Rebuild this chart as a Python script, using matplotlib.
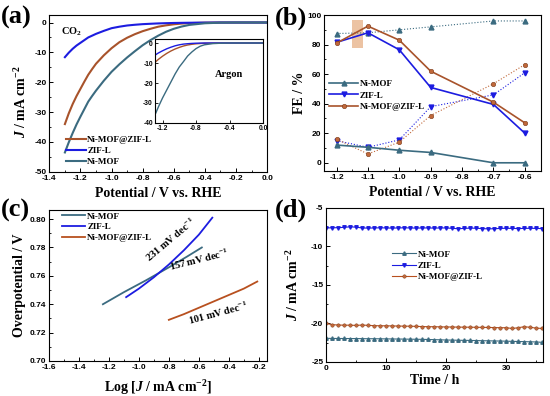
import matplotlib
matplotlib.use("Agg")
import matplotlib.pyplot as plt
from matplotlib.patches import Rectangle
from matplotlib.ticker import MultipleLocator

plt.rcParams["font.family"] = ["Liberation Sans", "DejaVu Sans"]
plt.rcParams["font.weight"] = "bold"
plt.rcParams["mathtext.fontset"] = "custom"
plt.rcParams["mathtext.rm"] = "Liberation Serif:bold"
plt.rcParams["mathtext.bf"] = "Liberation Serif:bold"
plt.rcParams["mathtext.it"] = "Liberation Serif:italic:bold"
plt.rcParams["axes.linewidth"] = 0.8
plt.rcParams["axes.unicode_minus"] = False

SERIF = "Liberation Serif"
C_MOF = "#3b6b80"
C_ZIF = "#1c1ce0"
C_MIX = "#a8532b"
names = ["Ni-MOF", "ZIF-L", "Ni-MOF@ZIF-L"]

# (a) LSV in CO2
v_main = [-1.30, -1.275, -1.25, -1.225, -1.20, -1.175, -1.15, -1.125, -1.10, -1.05,
          -1.00, -0.95, -0.90, -0.85, -0.80, -0.75, -0.70, -0.65, -0.60, -0.55,
          -0.50, -0.40, -0.30, -0.20, -0.10, 0.00]
j_mof = [-43.5, -40.1, -37.0, -34.1, -31.5, -29.0, -26.5, -24.6, -22.8, -19.5,
         -16.5, -14.0, -11.7, -9.6, -7.6, -5.9, -4.4, -3.1, -2.1, -1.35,
         -0.8, -0.25, -0.05, 0.0, 0.0, 0.0]
j_zif = [-11.6, -10.1, -8.8, -7.7, -6.8, -5.9, -5.0, -4.4, -3.8, -2.8,
         -1.9, -1.4, -1.0, -0.75, -0.55, -0.42, -0.3, -0.22, -0.15, -0.11,
         -0.08, -0.03, 0.0, 0.0, 0.0, 0.0]
j_mix = [-34.0, -30.4, -27.3, -24.6, -22.2, -19.8, -17.5, -15.6, -13.8, -11.0,
         -8.6, -6.6, -5.1, -3.9, -2.9, -2.1, -1.4, -0.95, -0.6, -0.35,
         -0.2, -0.05, 0.0, 0.0, 0.0, 0.0]

# (a) inset, argon
v_ar = [-1.28, -1.25, -1.20, -1.15, -1.10, -1.05, -1.00, -0.95, -0.90, -0.85,
        -0.80, -0.75, -0.70, -0.60, -0.50, -0.40, -0.20, 0.00]
ar_mof = [-35.0, -32.0, -27.5, -23.5, -19.5, -15.5, -12.0, -9.3, -6.5, -4.5,
          -2.8, -1.6, -0.9, -0.3, -0.1, 0.0, 0.0, 0.0]
ar_zif = [-5.8, -5.0, -3.9, -2.9, -2.1, -1.4, -0.9, -0.55, -0.35, -0.2,
          -0.1, -0.05, 0.0, 0.0, 0.0, 0.0, 0.0, 0.0]
ar_mix = [-9.3, -8.2, -6.6, -5.2, -4.0, -3.0, -2.2, -1.5, -1.0, -0.65,
          -0.4, -0.25, -0.15, -0.05, 0.0, 0.0, 0.0, 0.0]

# (b) Faradaic efficiency
v_fe = [-1.2, -1.1, -1.0, -0.9, -0.7, -0.6]
fe_co_mof = [12, 10.5, 8.5, 7, 0, 0]
fe_co_zif = [81.5, 88, 76.5, 51, 39.5, 20]
fe_co_mix = [81, 92.5, 83, 62, 41, 27]
fe_h2_mof = [87.5, 88, 90, 92, 96, 96]
fe_h2_zif = [15, 10.5, 15.5, 38, 46, 61]
fe_h2_mix = [16, 6, 14, 32, 53.5, 66.5]

# (c) Tafel
log_mof = [-1.24, -1.10, -0.95, -0.80, -0.68, -0.58]
eta_mof = [0.740, 0.7485, 0.757, 0.766, 0.7735, 0.780]
log_zif = [-1.085, -1.00, -0.90, -0.80, -0.70, -0.60, -0.51]
eta_zif = [0.745, 0.751, 0.759, 0.768, 0.778, 0.789, 0.801]
log_mix = [-0.80, -0.70, -0.60, -0.50, -0.40, -0.30, -0.21]
eta_mix = [0.729, 0.733, 0.7375, 0.742, 0.7465, 0.751, 0.756]
tafel_labels = ["157 mV dec$^{-1}$", "231 mV dec$^{-1}$", "101 mV dec$^{-1}$"]

# (d) stability
t_h = list(range(37))
st_zif = [-7.60, -7.58, -7.56, -7.52, -7.45, -7.50, -7.60, -7.62, -7.60, -7.58,
          -7.60, -7.62, -7.60, -7.58, -7.60, -7.62, -7.60, -7.60, -7.62, -7.60,
          -7.60, -7.65, -7.70, -7.66, -7.62, -7.64, -7.68, -7.72, -7.70, -7.66,
          -7.64, -7.66, -7.68, -7.66, -7.64, -7.66, -7.68]
st_mix = [-20.00, -20.15, -20.20, -20.22, -20.22, -20.25, -20.20, -20.25, -20.28, -20.30,
          -20.30, -20.32, -20.33, -20.35, -20.35, -20.38, -20.40, -20.42, -20.42, -20.44,
          -20.45, -20.46, -20.47, -20.48, -20.48, -20.50, -20.50, -20.52, -20.53, -20.55,
          -20.55, -20.65, -20.55, -20.42, -20.50, -20.60, -20.65]
st_mof = [-21.93, -21.94, -21.95, -21.95, -21.96, -21.96, -21.97, -21.98, -21.98, -21.99,
          -22.00, -22.01, -22.02, -22.03, -22.04, -22.05, -22.06, -22.08, -22.10, -22.12,
          -22.15, -22.16, -22.18, -22.19, -22.20, -22.22, -22.24, -22.25, -22.27, -22.28,
          -22.30, -22.32, -22.34, -22.36, -22.38, -22.40, -22.45]

fig = plt.figure(figsize=(5.5, 3.96), dpi=100)


def style(ax, fs=6):
    ax.tick_params(which="both", direction="in", top=False, right=False,
                   labelsize=fs, pad=2)
    ax.tick_params(which="major", length=3, width=0.7)
    ax.tick_params(which="minor", length=1.6, width=0.6)


def label_font(size=10):
    return dict(family=SERIF, weight="bold", size=size)


# ---- (a)
ax = fig.add_axes([0.0897, 0.566, 0.396, 0.396])
ax.plot(v_main, j_mix, color=C_MIX, lw=1.5, label=names[2])
ax.plot(v_main, j_zif, color=C_ZIF, lw=1.5, label=names[1])
ax.plot(v_main, j_mof, color=C_MOF, lw=1.5, label=names[0])
ax.set_xlim(-1.4, 0.0)
ax.set_ylim(-50, 2.5)
ax.xaxis.set_major_locator(MultipleLocator(0.2))
ax.xaxis.set_minor_locator(MultipleLocator(0.1))
ax.yaxis.set_major_locator(MultipleLocator(10))
ax.yaxis.set_minor_locator(MultipleLocator(5))
style(ax)
ax.set_xlabel("Potential / V vs. RHE", **label_font(10))
ax.set_ylabel("$J$ / mA cm$^{-2}$", **label_font(10))
ax.xaxis.set_label_coords(0.5, -0.095)
ax.yaxis.set_label_coords(-0.093, 0.45)
ax.text(0.055, 0.875, "CO$_2$", transform=ax.transAxes, **label_font(7.5))
ax.legend(loc="lower left", bbox_to_anchor=(0.05, 0.0), frameon=False,
          prop=label_font(6.5), handlelength=2.2, handletextpad=0.2,
          labelspacing=0.3, borderpad=0.1)
fig.text(0.002, 0.955, "(a)", ha="left", va="center", **label_font(19))

ins = fig.add_axes([0.2818, 0.6894, 0.1964, 0.2121])
ins.plot(v_ar, ar_mix, color=C_MIX, lw=1.0)
ins.plot(v_ar, ar_zif, color=C_ZIF, lw=1.0)
ins.plot(v_ar, ar_mof, color=C_MOF, lw=1.0)
ins.set_xlim(-1.29, 0.0)
ins.set_ylim(-40, 2)
ins.xaxis.set_major_locator(MultipleLocator(0.4))
ins.yaxis.set_major_locator(MultipleLocator(10))
ins.tick_params(direction="in", length=2, width=0.6, labelsize=4.8, pad=1.5)
ins.text(0.55, 0.55, "Argon", transform=ins.transAxes, **label_font(7.5))

# ---- (b)
ax = fig.add_axes([0.589, 0.568, 0.395, 0.394])
ax.add_patch(Rectangle((-1.15, 77.6), 0.035, 19.2, facecolor="#e8b48c",
                       edgecolor="none", alpha=0.8, zorder=1))
ax.plot(v_fe, fe_h2_mof, ":", color=C_MOF, lw=0.8, marker="^", ms=3.5, zorder=2)
ax.plot(v_fe, fe_h2_zif, ":", color=C_ZIF, lw=0.8, marker="v", ms=3.5, zorder=2)
ax.plot(v_fe, fe_h2_mix, ":", color="#c0683a", lw=0.8, marker="o", ms=3.2,
        mfc="#c0683a", mec="#7a3a18", mew=0.4, zorder=2)
ax.plot(v_fe, fe_co_mof, "-", color=C_MOF, lw=1.2, marker="^", ms=3.5,
        label=names[0], zorder=3)
ax.plot(v_fe, fe_co_zif, "-", color=C_ZIF, lw=1.2, marker="v", ms=3.5,
        label=names[1], zorder=3)
ax.plot(v_fe, fe_co_mix, "-", color=C_MIX, lw=1.2, marker="o", ms=3.2,
        mfc="#c0683a", mec="#7a3a18", mew=0.4, label=names[2], zorder=3)
ax.set_xlim(-1.24, -0.548)
ax.set_ylim(-5.6, 100)
ax.xaxis.set_major_locator(MultipleLocator(0.1))
ax.xaxis.set_minor_locator(MultipleLocator(0.05))
ax.yaxis.set_major_locator(MultipleLocator(20))
ax.yaxis.set_minor_locator(MultipleLocator(10))
style(ax)
ax.set_xlabel("Potential / V vs. RHE", **label_font(10))
ax.set_ylabel("FE / %", **label_font(10))
ax.xaxis.set_label_coords(0.5, -0.095)
ax.yaxis.set_label_coords(-0.083, 0.5)
ax.legend(loc="upper left", bbox_to_anchor=(0.0, 0.62), frameon=False,
          prop=label_font(6.5), handlelength=3.2, handletextpad=0.2,
          labelspacing=0.35, borderpad=0.1)
fig.text(0.5, 0.955, "(b)", ha="left", va="center", **label_font(19))

# ---- (c)
ax = fig.add_axes([0.089, 0.0884, 0.3965, 0.3816])
ax.plot(log_mof, eta_mof, color=C_MOF, lw=1.3, label=names[0])
ax.plot(log_zif, eta_zif, color=C_ZIF, lw=1.3, label=names[1])
ax.plot(log_mix, eta_mix, color="#b8501f", lw=1.3, label=names[2])
ax.set_xlim(-1.6, -0.145)
ax.set_ylim(0.70, 0.8065)
ax.xaxis.set_major_locator(MultipleLocator(0.2))
ax.xaxis.set_minor_locator(MultipleLocator(0.1))
ax.yaxis.set_major_locator(MultipleLocator(0.02))
ax.yaxis.set_minor_locator(MultipleLocator(0.01))
style(ax)
ax.set_xlabel("Log [$J$ / mA cm$^{-2}$]", **label_font(10))
ax.set_ylabel("Overpotential / V", **label_font(10))
ax.xaxis.set_label_coords(0.5, -0.11)
ax.yaxis.set_label_coords(-0.105, 0.5)
ax.text(-0.79, 0.7855, tafel_labels[1], rotation=40, ha="center", va="center",
        **label_font(7.5))
ax.text(-0.6, 0.7712, tafel_labels[0], rotation=14, ha="center", va="center",
        **label_font(7.5))
ax.text(-0.47, 0.7335, tafel_labels[2], rotation=15, ha="center", va="center",
        **label_font(7.5))
ax.legend(loc="upper left", bbox_to_anchor=(0.035, 1.02), frameon=False,
          prop=label_font(6.5), handlelength=2.6, handletextpad=0.2,
          labelspacing=0.25, borderpad=0.1)
fig.text(0.002, 0.468, "(c)", ha="left", va="center", **label_font(19))

# ---- (d)
ax = fig.add_axes([0.593, 0.0859, 0.394, 0.389])
ax.plot(t_h, st_mof, "-", color=C_MOF, lw=0.8, marker="^", ms=2.5, label=names[0])
ax.plot(t_h, st_zif, "-", color=C_ZIF, lw=0.8, marker="v", ms=2.5, label=names[1])
ax.plot(t_h, st_mix, "-", color="#b8501f", lw=0.8, marker="o", ms=2.5,
        mfc="#c0683a", mec="#7a3a18", mew=0.3, label=names[2])
ax.set_xlim(0, 36.1)
ax.set_ylim(-25, -5)
ax.xaxis.set_major_locator(MultipleLocator(10))
ax.xaxis.set_minor_locator(MultipleLocator(5))
ax.yaxis.set_major_locator(MultipleLocator(5))
ax.yaxis.set_minor_locator(MultipleLocator(2.5))
style(ax)
ax.set_xlabel("Time / h", **label_font(10))
ax.set_ylabel("$J$ / mA cm$^{-2}$", **label_font(10))
ax.xaxis.set_label_coords(0.5, -0.08)
ax.yaxis.set_label_coords(-0.115, 0.5)
ax.legend(loc="upper left", bbox_to_anchor=(0.28, 0.76), frameon=False,
          prop=label_font(6.5), handlelength=2.6, handletextpad=0.2,
          labelspacing=0.3, borderpad=0.1)
fig.text(0.5, 0.468, "(d)", ha="left", va="center", **label_font(19))

fig.savefig("out.png", dpi=100)
